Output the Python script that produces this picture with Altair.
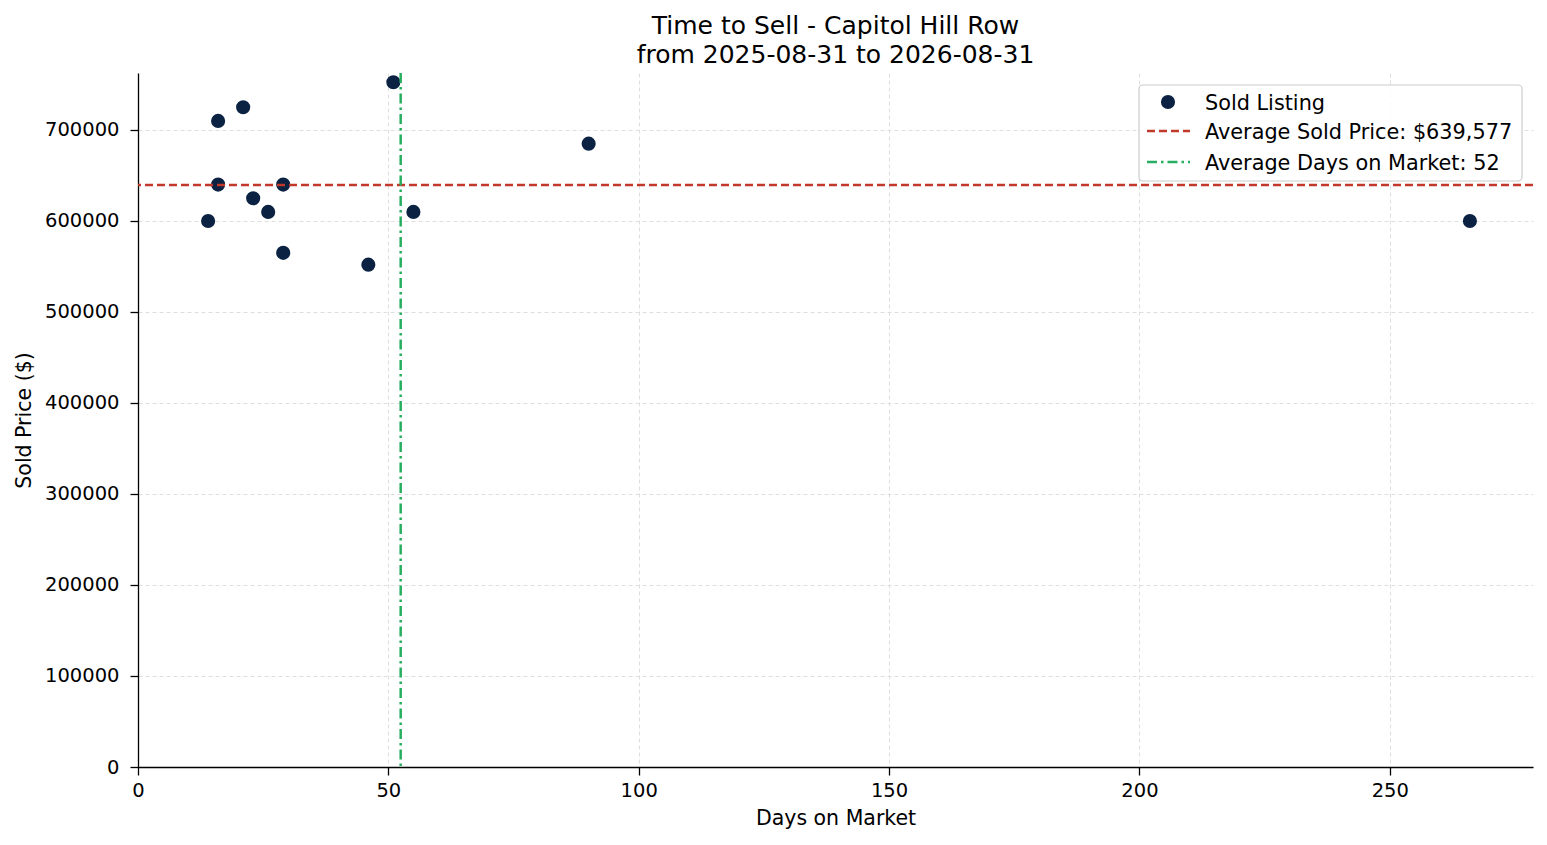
import pandas as pd
import altair as alt

# listings
days = [14, 16, 16, 21, 23, 26, 29, 29, 46, 51, 55, 90, 266]
price = [600000, 710000, 640000, 725000, 625000, 610000, 640000, 565000,
         552000, 752500, 610000, 685000, 600000]
avg_price = 639577
avg_days = 52.46
x_ticks = [0, 50, 100, 150, 200, 250]
y_ticks = [0, 100000, 200000, 300000, 400000, 500000, 600000, 700000]
legend_labels = ["Sold Listing", "Average Sold Price: $639,577", "Average Days on Market: 52"]

FONT = "DejaVu Sans"
NAVY = "#0b2242"
RED = "#c0392b"
GREEN = "#27ae60"
RED_DASH = [8, 4]
GREEN_DASH = [10, 4, 2.5, 4]

df = pd.DataFrame({"days": days, "price": price})

x_enc = alt.X("days:Q", title="Days on Market",
              scale=alt.Scale(domain=[0, 278.6], nice=False, zero=False),
              axis=alt.Axis(values=x_ticks, labelFlush=False))
y_enc = alt.Y("price:Q", title="Sold Price ($)",
              scale=alt.Scale(domain=[0, 762625], nice=False),
              axis=alt.Axis(values=y_ticks, format="d", labelFlush=False))

points = alt.Chart(df).mark_circle(size=200, color=NAVY, opacity=1).encode(x=x_enc, y=y_enc)

hline = alt.Chart(pd.DataFrame({"price": [avg_price]})).mark_rule(
    color=RED, strokeWidth=2.5, strokeDash=RED_DASH
).encode(y="price:Q")

vline = alt.Chart(pd.DataFrame({"days": [avg_days]})).mark_rule(
    color=GREEN, strokeWidth=2.5, strokeDash=GREEN_DASH
).encode(x="days:Q")

# legend box drawn by hand (matplotlib style)
box = alt.Chart(pd.DataFrame({"a": [0]})).mark_rect(
    fill="white", fillOpacity=0.85, stroke="#cccccc", strokeWidth=1.2, cornerRadius=4
).encode(x=alt.value(1001), x2=alt.value(1384), y=alt.value(12), y2=alt.value(108))

leg_pt = alt.Chart(pd.DataFrame({"a": [0]})).mark_circle(size=200, color=NAVY, opacity=1).encode(
    x=alt.value(1030), y=alt.value(29))
leg_red = alt.Chart(pd.DataFrame({"a": [0]})).mark_rule(
    color=RED, strokeWidth=2.5, strokeDash=RED_DASH
).encode(x=alt.value(1009), x2=alt.value(1052), y=alt.value(58))
leg_green = alt.Chart(pd.DataFrame({"a": [0]})).mark_rule(
    color=GREEN, strokeWidth=2.5, strokeDash=GREEN_DASH
).encode(x=alt.value(1009), x2=alt.value(1052), y=alt.value(89))

leg_text = []
for i, lab in enumerate(legend_labels):
    leg_text.append(
        alt.Chart(pd.DataFrame({"label": [lab]})).mark_text(
            align="left", baseline="middle", font=FONT, fontSize=20.8, color="black"
        ).encode(x=alt.value(1067), y=alt.value([31, 60, 91][i]), text="label:N")
    )

chart = alt.layer(points, hline, vline, box, leg_pt, leg_red, leg_green, *leg_text).properties(
    width=1395,
    height=694,
    padding={"left": 130, "top": 65, "right": 6, "bottom": 70},
    autosize=alt.AutoSizeParams(type="none"),
    title=alt.TitleParams(
        ["Time to Sell - Capitol Hill Row", "from 2025-08-31 to 2026-08-31"],
        font=FONT, fontSize=25, fontWeight="normal", anchor="middle",
        lineHeight=29, offset=4, color="black",
    ),
).configure_view(stroke=None).configure_axis(
    labelFont=FONT, titleFont=FONT, labelFontSize=19.5, titleFontSize=20.5,
    titleFontWeight="normal", labelColor="black", titleColor="black",
    domainColor="black", domainWidth=1.3, tickColor="black", tickSize=8,
    tickWidth=1.3,
    gridColor="#d6d6d6", gridDash=[4, 3], gridWidth=0.8,
).configure_axisX(labelPadding=6, titlePadding=9).configure_axisY(labelPadding=11, titlePadding=10)

chart.save("out.html", embed_options={"renderer": "svg", "actions": False})
